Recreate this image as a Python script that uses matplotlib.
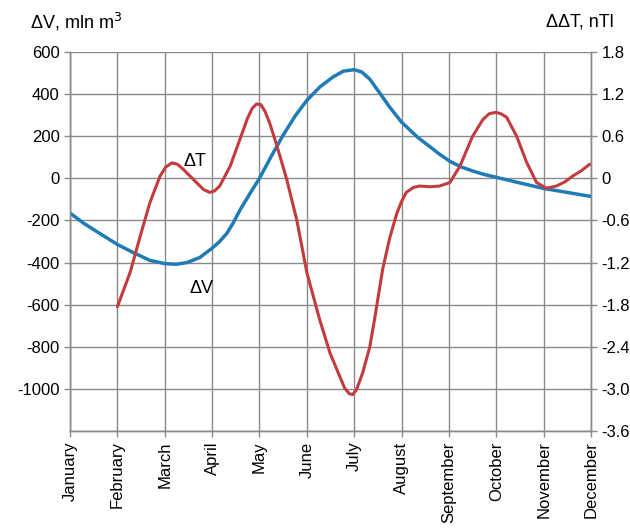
import matplotlib
matplotlib.use('Agg')
from matplotlib import pyplot as plt

plt.rcParams['font.family'] = ['Liberation Sans', 'DejaVu Sans']

months = ['January', 'February', 'March', 'April', 'May', 'June', 'July',
          'August', 'September', 'October', 'November', 'December']

# ΔV, mln m3 (left axis), x in month index
dv_x = [0, 0.3, 0.63, 1.0, 1.33, 1.69, 2.0, 2.25, 2.47, 2.74, 3.0, 3.15, 3.31,
        3.45, 3.59, 3.8, 4.0, 4.25, 4.5, 4.75, 5.0, 5.27, 5.55, 5.77, 6.0,
        6.16, 6.33, 6.54, 6.75, 7.0, 7.34, 7.6, 7.8, 8.02, 8.25, 8.5, 8.75,
        9.0, 9.5, 10.0, 10.5, 11.0]
dv_y = [-165, -215, -262, -314, -352, -390, -405, -408, -400, -376, -332,
        -302, -262, -210, -150, -72, 0, 105, 205, 295, 370, 433, 481, 509,
        516, 505, 471, 405, 338, 267, 195, 150, 115, 81, 55, 35, 18, 5, -22,
        -48, -67, -86]

# ΔT, nTl (right axis)
dt_x = [1.0, 1.27, 1.48, 1.69, 1.9, 2.02, 2.15, 2.27, 2.39, 2.67, 2.82, 2.95,
        3.05, 3.16, 3.38, 3.59, 3.75, 3.85, 3.94, 4.03, 4.12, 4.22, 4.37,
        4.57, 4.79, 5.0, 5.27, 5.49, 5.7, 5.8, 5.9, 5.97, 6.05, 6.18, 6.33,
        6.43, 6.6, 6.75, 6.9, 7.0, 7.1, 7.25, 7.38, 7.6, 7.8, 8.02, 8.23,
        8.5, 8.72, 8.85, 8.99, 9.1, 9.22, 9.43, 9.64, 9.85, 10.06, 10.27,
        10.45, 10.61, 10.8, 10.97]
dt_y = [-1.83, -1.34, -0.83, -0.34, 0.03, 0.16, 0.22, 0.2, 0.13, -0.06,
        -0.16, -0.2, -0.18, -0.11, 0.17, 0.56, 0.86, 1.0, 1.06, 1.05, 0.95,
        0.78, 0.46, 0.0, -0.6, -1.34, -2.01, -2.49, -2.83, -2.99, -3.07,
        -3.08, -3.01, -2.77, -2.4, -2.01, -1.3, -0.85, -0.5, -0.33, -0.2,
        -0.13, -0.11, -0.12, -0.11, -0.06, 0.17, 0.6, 0.84, 0.92, 0.94, 0.92,
        0.87, 0.6, 0.23, -0.06, -0.14, -0.11, -0.05, 0.03, 0.11, 0.2]

left_ticks = [600, 400, 200, 0, -200, -400, -600, -800, -1000]
right_ticks = [1.8, 1.2, 0.6, 0, -0.6, -1.2, -1.8, -2.4, -3.0, -3.6]
right_labels = ['1.8', '1.2', '0.6', '0', '-0.6', '-1.2', '-1.8', '-2.4', '-3.0', '-3.6']

fig = plt.figure(figsize=(6.3, 5.29), dpi=100)
ax = fig.add_axes([70 / 630, 1 - 431 / 529, 521 / 630, 379 / 529])
ax2 = ax.twinx()

grid_c = '#8a8a8a'
ax.set_xlim(0, 11)
ax.set_ylim(-1200, 600)
ax2.set_ylim(-3.6, 1.8)

# сетка
for m in range(12):
    ax.axvline(m, color=grid_c, lw=1.0, zorder=0)
for v in range(-1200, 601, 200):
    ax.axhline(v, color=grid_c, lw=1.0, zorder=0)

ax.plot(dv_x, dv_y, color='#1f7bb6', lw=2.5, solid_capstyle='round',
        solid_joinstyle='round', zorder=3)
ax2.plot(dt_x, dt_y, color='#c23b3d', lw=2.2, solid_capstyle='round',
         solid_joinstyle='round', zorder=3)

ax.set_xticks(range(12))
ax.set_xticklabels(months, rotation=90, fontsize=12)
ax.set_yticks(left_ticks)
ax.set_yticklabels([str(v) for v in left_ticks], fontsize=12)
ax2.set_yticks(right_ticks)
ax2.set_yticklabels(right_labels, fontsize=12)

for a in (ax, ax2):
    for s in a.spines.values():
        s.set_color(grid_c)
        s.set_linewidth(1.0)
    a.tick_params(colors=grid_c, labelcolor='black', length=4, width=1.0)
ax.spines['top'].set_visible(False)
ax2.spines['top'].set_visible(False)

ax.text(2.64, 80, 'ΔT', fontsize=13, ha='center', va='center')
ax.text(2.78, -524, 'ΔV', fontsize=13, ha='center', va='center')

fig.text(30 / 630, 1 - 22 / 529, 'ΔV, mln m$^3$', fontsize=13, va='center', ha='left')
fig.text(614 / 630, 1 - 22 / 529, 'ΔΔT, nTl', fontsize=13, va='center', ha='right')

plt.savefig('out.png', dpi=100)
